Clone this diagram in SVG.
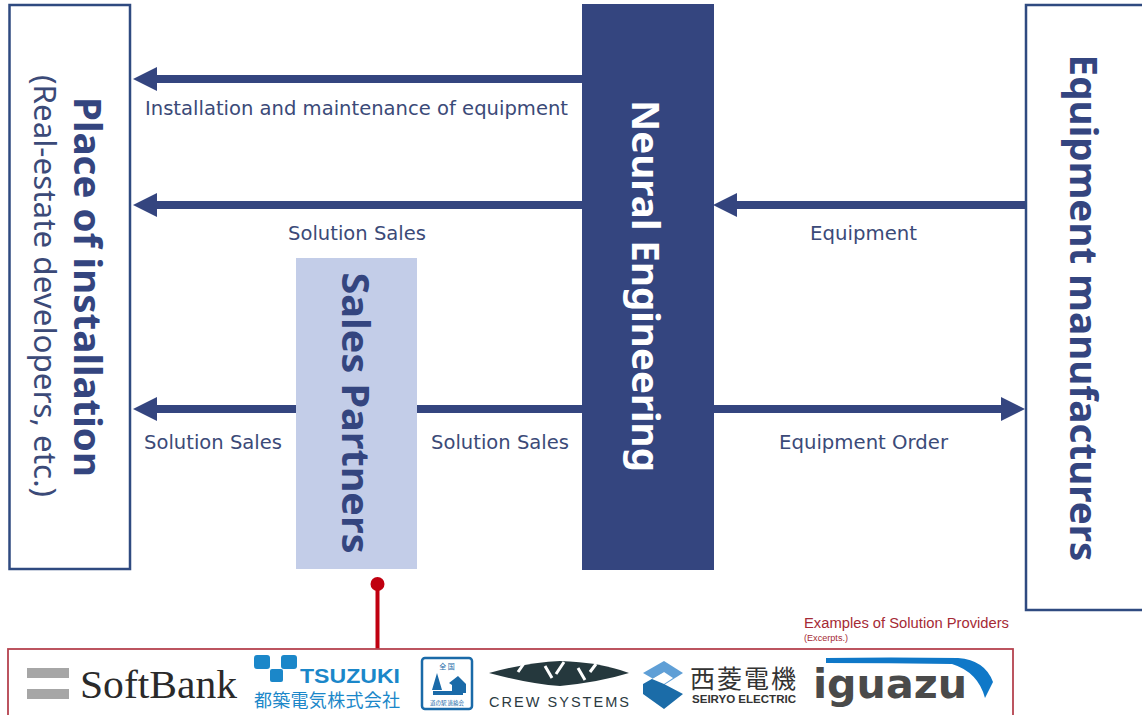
<svg xmlns="http://www.w3.org/2000/svg" width="1142" height="715" viewBox="0 0 1142 715">
<style>
text{font-family:"DejaVu Sans","Noto Sans CJK JP",sans-serif}
.lbl{font-size:19px;fill:#3b4a78}
.big{font-family:"Noto Sans",sans-serif;font-size:38px;font-weight:700;fill:#34457f}
.sub{font-family:"Noto Sans",sans-serif;font-size:31px;fill:#3b4a78}
.box{fill:#fff;stroke:#2f4a80;stroke-width:2.5}
.arr{stroke:#34457f;stroke-width:8;fill:none}
.cap{font-family:"Liberation Sans",sans-serif;fill:#a52a35}
.jp{font-family:"Noto Sans CJK JP",sans-serif}
</style>
<defs>
<marker id="ah" markerUnits="userSpaceOnUse" markerWidth="26" markerHeight="26" refX="0" refY="12" orient="auto"><path d="M0 0L24 12L0 24Z" fill="#34457f"/></marker>
</defs>
<rect width="1142" height="715" fill="#fff"/>
<g id="place"><rect class="box" x="9.500" y="5" width="120.500" height="564"/>
<text class="big" transform="translate(74,287) rotate(90)" text-anchor="middle" textLength="380" lengthAdjust="spacingAndGlyphs">Place of installation</text>
<text class="sub" transform="translate(34,286) rotate(90)" text-anchor="middle" textLength="422" lengthAdjust="spacingAndGlyphs">(Real-estate developers, etc.)</text></g>
<g id="neural"><rect x="582" y="4" width="132" height="566" fill="#34457f"/>
<text class="big" style="fill:#fff" transform="translate(632,286) rotate(90)" text-anchor="middle" textLength="372" lengthAdjust="spacingAndGlyphs">Neural Engineering</text></g>
<g id="manufacturers"><rect class="box" x="1026" y="5" width="130" height="605"/>
<text class="big" transform="translate(1070,308) rotate(90)" text-anchor="middle" textLength="507" lengthAdjust="spacingAndGlyphs">Equipment manufacturers</text></g>
<g id="partners"><rect x="296" y="258" width="121" height="311" fill="#c3cde8"/>
<text class="big" transform="translate(342,413) rotate(90)" text-anchor="middle" textLength="281" lengthAdjust="spacingAndGlyphs">Sales Partners</text></g>
<g id="connectors">
<path class="arr" d="M582 79H157" marker-end="url(#ah)"/>
<path class="arr" d="M582 205H157" marker-end="url(#ah)"/>
<path class="arr" d="M1025 205H737" marker-end="url(#ah)"/>
<path class="arr" d="M296 409H157" marker-end="url(#ah)"/>
<path class="arr" d="M417 409H582"/>
<path class="arr" d="M714 409H1001" marker-end="url(#ah)"/>
<path d="M377.500 584V649" stroke="#c00010" stroke-width="4" fill="none"/>
<circle cx="377.500" cy="584" r="7" fill="#c00010"/>
</g>
<g id="labels">
<text class="lbl" x="145" y="115" textLength="423" lengthAdjust="spacingAndGlyphs">Installation and maintenance of equipment</text>
<text class="lbl" x="288" y="240" textLength="138" lengthAdjust="spacingAndGlyphs">Solution Sales</text>
<text class="lbl" x="810" y="240" textLength="107" lengthAdjust="spacingAndGlyphs">Equipment</text>
<text class="lbl" x="144" y="449" textLength="138" lengthAdjust="spacingAndGlyphs">Solution Sales</text>
<text class="lbl" x="431" y="449" textLength="138" lengthAdjust="spacingAndGlyphs">Solution Sales</text>
<text class="lbl" x="779" y="449" textLength="169" lengthAdjust="spacingAndGlyphs">Equipment Order</text>
</g>
<g id="providers">
<text class="cap" x="804" y="628" font-size="14" textLength="205" lengthAdjust="spacingAndGlyphs">Examples of Solution Providers</text>
<text class="cap" x="804" y="641" font-size="8.500" textLength="44" lengthAdjust="spacingAndGlyphs">(Excerpts.)</text>
<rect x="8" y="649" width="1005" height="70" fill="#fff" stroke="#b5434f" stroke-width="1.800"/>
<g id="softbank"><rect x="27" y="668" width="42" height="10" fill="#a6a6a6"/><rect x="27" y="689" width="42" height="10" fill="#a6a6a6"/>
<text x="80" y="698" font-size="41" fill="#2a2a2a" style="font-family:'Liberation Serif',serif" textLength="157" lengthAdjust="spacingAndGlyphs">SoftBank</text></g>
<g id="tsuzuki" fill="#1b87c9"><rect x="254" y="655" width="16" height="14" rx="3"/><rect x="281" y="655" width="16" height="14" rx="3"/><rect x="270" y="669" width="13" height="13" rx="2"/>
<text x="300" y="683" font-size="21" font-weight="700" style="font-family:'Liberation Sans',sans-serif" textLength="100" lengthAdjust="spacingAndGlyphs">TSUZUKI</text>
<text class="jp" x="254" y="707" font-size="18" textLength="146">都築電気株式会社</text></g>
<g id="michinoeki"><rect x="422" y="658" width="50" height="51" rx="3" fill="#fff" stroke="#1a6aa8" stroke-width="2.500"/>
<text class="jp" x="447" y="669" font-size="7" fill="#1a6aa8" text-anchor="middle">全 国</text>
<path d="M437 673L442 690H432ZM449 683L458 676L466 684V693H452V685ZM433 691H463V695H433Z" fill="#1a6aa8"/>
<text class="jp" x="447" y="705" font-size="5.500" fill="#1a6aa8" text-anchor="middle">道の駅 連絡会</text></g>
<g id="crew"><path d="M489 673Q530 662 560 661Q600 662 629 673Q600 682 560 686Q530 684 489 673Z" fill="#25383d"/>
<path d="M518 672L525 662M552 678L545 666M556 674L564 662M585 680L578 668M590 672L596 664" stroke="#fff" stroke-width="3" fill="none"/>
<text x="489" y="707" font-size="14.500" fill="#2b3a3f" textLength="140" style="font-family:'Liberation Sans',sans-serif">CREW SYSTEMS</text></g>
<g id="seiryo"><path d="M664 661L683 673L664 685L643 673Z" fill="#5f9fd6"/><path d="M643 684L664 672V684L683 694L664 709L643 694Z" fill="#1b6ca8"/><path d="M652 679L664 672L673 678L664 684Z" fill="#fff"/>
<text class="jp" x="690" y="688" font-size="25" fill="#333" textLength="106">西菱電機</text>
<text x="692" y="703" font-size="10" font-weight="700" fill="#333" style="font-family:'Liberation Sans',sans-serif" textLength="104" lengthAdjust="spacingAndGlyphs">SEIRYO ELECTRIC</text></g>
<g id="iguazu"><path d="M826 658Q890 657 958 658Q985 660 993 682L985 698Q978 672 952 664Q890 663 826 663Z" fill="#0f78c8"/>
<text x="813" y="698" font-size="41" font-weight="700" fill="#4a4a4a" style="font-family:'DejaVu Sans',sans-serif" textLength="154" lengthAdjust="spacingAndGlyphs">iguazu</text></g>
</g>
</svg>
